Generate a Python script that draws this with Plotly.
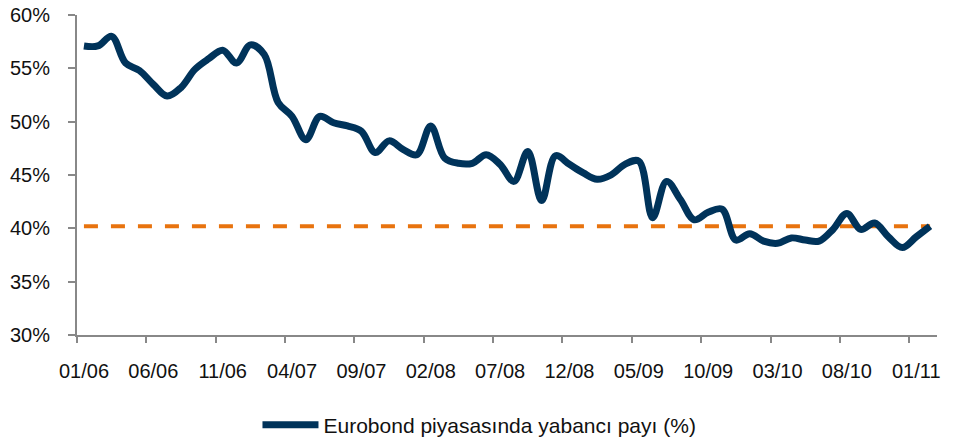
import plotly.graph_objects as go

# Monthly share (%) of foreigners in the Eurobond market, 01/06 .. 02/11
months = list(range(62))
share = [57.1, 57.1, 58.0, 55.5, 54.8, 53.5, 52.4, 53.2, 54.9, 55.9,
         56.7, 55.5, 57.2, 56.3, 51.8, 50.5, 48.3, 50.5, 49.9, 49.6,
         49.1, 47.1, 48.2, 47.4, 46.9, 49.6, 46.6, 46.1, 46.1, 46.9,
         46.0, 44.4, 47.2, 42.6, 46.8, 46.0, 45.2, 44.6, 45.0, 46.0,
         46.3, 41.0, 44.4, 42.7, 40.8, 41.5, 41.8, 38.9, 39.5, 38.8,
         38.6, 39.1, 38.9, 38.8, 39.9, 41.4, 39.9, 40.5, 39.2, 38.2,
         39.2, 40.2]
reference_level = [40.2] * len(months)

tick_positions = [-0.5, 4.5, 9.5, 14.5, 19.5, 24.5, 29.5, 34.5, 39.5, 44.5, 49.5, 54.5, 59.5]
tick_labels = ["01/06", "06/06", "11/06", "04/07", "09/07", "02/08", "07/08",
               "12/08", "05/09", "10/09", "03/10", "08/10", "01/11"]
y_ticks = [30, 35, 40, 45, 50, 55, 60]

NAVY = "#00335A"
ORANGE = "#E8730E"
FONT = "Liberation Sans, Arial, sans-serif"

fig = go.Figure()
fig.add_trace(go.Scatter(
    x=months, y=reference_level, mode="lines",
    line=dict(color=ORANGE, width=4, dash="14px,13px"),
    showlegend=False, hoverinfo="skip"))
fig.add_trace(go.Scatter(
    x=months, y=share, mode="lines",
    name="Eurobond piyasasında yabancı payı (%)",
    line=dict(color=NAVY, width=7, shape="spline", smoothing=1)))

fig.update_layout(
    width=959, height=445,
    margin=dict(l=77, r=22, t=15, b=110, autoexpand=False),
    paper_bgcolor="white", plot_bgcolor="white",
    font=dict(family=FONT, size=20, color="#111111"),
    legend=dict(orientation="h", x=0.468, xanchor="center", y=20 / 445, yanchor="middle",
                yref="container", font=dict(size=21), itemwidth=56,
                bgcolor="rgba(0,0,0,0)"),
    xaxis=dict(range=[-0.5, 61.5], tickmode="array", tickvals=tick_positions,
               ticktext=tick_labels, ticks="outside", ticklen=6, tickwidth=2,
               tickcolor="#888888", showline=True, linecolor="#888888", linewidth=2,
               showgrid=False, zeroline=False, ticklabelshift=7, ticklabelstandoff=11,
               automargin=False),
    yaxis=dict(range=[30, 60], tickmode="array", tickvals=y_ticks,
               ticktext=[f"{v}%" for v in y_ticks], ticks="outside", ticklen=7,
               tickwidth=2, tickcolor="#888888", showline=True, linecolor="#888888",
               linewidth=2, showgrid=False, zeroline=False, ticklabelstandoff=14,
               automargin=False, ticklabeloverflow="allow"),
)

fig.write_html("out.html", config={"displayModeBar": False},
               post_script="document.body.style.margin='0';document.body.style.overflow='hidden';")
